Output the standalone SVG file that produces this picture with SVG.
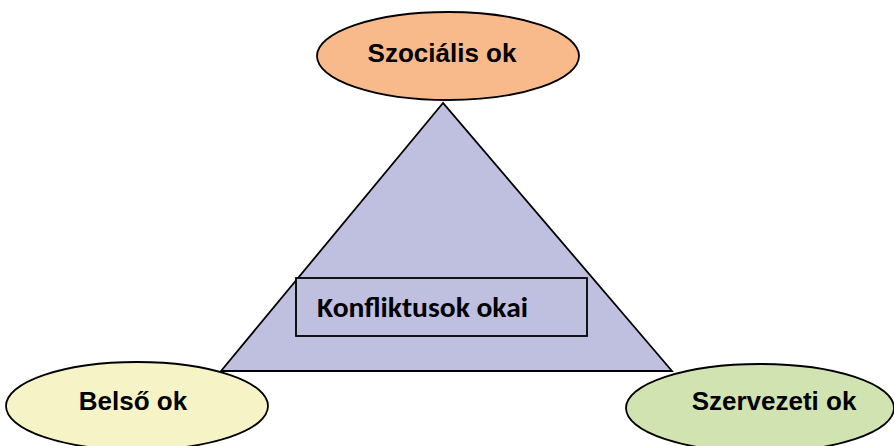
<svg xmlns="http://www.w3.org/2000/svg" width="894" height="446" viewBox="0 0 894 446">
<style>
.outline{stroke:#000;stroke-width:1.8}
.lbl{font-family:"Liberation Sans",Arial,sans-serif;font-weight:bold;font-size:26px;fill:#000;text-anchor:middle}
.center{font-family:Carlito,"Open Sans","Liberation Sans",sans-serif;font-weight:bold;font-size:28px;fill:#000}
</style>
<rect width="894" height="446" fill="#fff"/>
<g id="triangle">
<polygon class="outline" points="443,103 221,371 672,371" fill="#BFBFDF"/>
</g>
<g id="konfliktusok">
<rect class="outline" x="296" y="278" width="291" height="58" fill="#BFBFDF"/>
<text class="center" x="317" y="317" textLength="211" lengthAdjust="spacingAndGlyphs">Konfliktusok okai</text>
</g>
<g id="connectors"></g>
<g id="szocialis">
<ellipse class="outline" cx="448" cy="56" rx="131" ry="44" fill="#F8B98B"/>
<text class="lbl" x="442" y="62">Szociális ok</text>
</g>
<g id="belso">
<ellipse class="outline" cx="137" cy="406" rx="131" ry="44" fill="#F6F4C6"/>
<text class="lbl" x="133" y="410">Belső ok</text>
</g>
<g id="szervezeti">
<ellipse class="outline" cx="760" cy="408" rx="134" ry="44" fill="#D2E3B2"/>
<text class="lbl" x="774" y="410">Szervezeti ok</text>
</g>
</svg>
